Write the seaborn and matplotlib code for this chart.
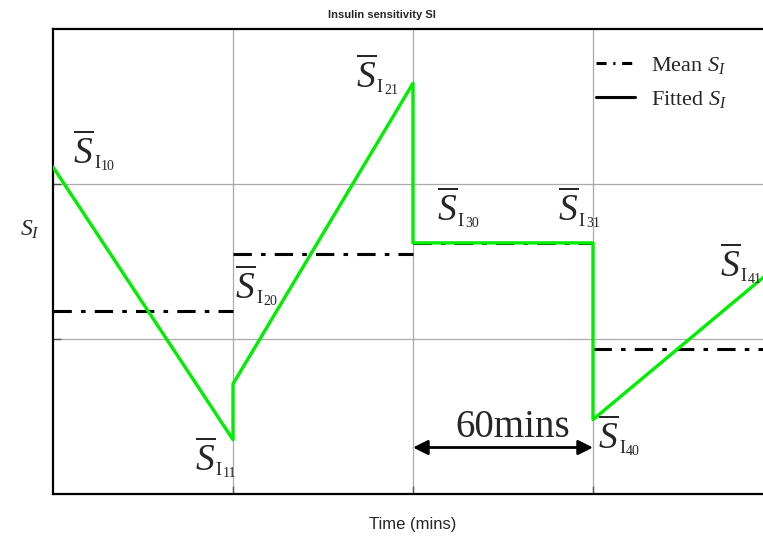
import matplotlib
matplotlib.use("Agg")
import matplotlib.pyplot as plt
import seaborn as sns
import pandas as pd
from matplotlib.lines import Line2D

# fitted S_I (piecewise linear, jumps at each hour)
fit_t = [0, 60, 60, 120, 120, 180, 180, 240]
fit_v = [2.11, 0.35, 0.71, 2.65, 1.62, 1.62, 0.48, 1.45]

# mean S_I over each hour
mean_start = [0, 60, 120, 180]
mean_end = [60, 120, 180, 240]
mean_v = [1.18, 1.55, 1.62, 0.935]

# S-bar annotations: subscript, left edge (mins), baseline (S_I units)
lab_sub = ['10', '11', '20', '21', '30', '31', '40', '41']
lab_t = [6.7, 47.3, 60.7, 101.0, 128.0, 168.3, 181.7, 222.3]
lab_v = [2.13, 0.15, 1.26, 2.62, 1.76, 1.76, 0.29, 1.40]

sns.set_theme(style='ticks')
plt.rcParams['font.family'] = ['Liberation Sans', 'DejaVu Sans']
plt.rcParams['mathtext.fontset'] = 'custom'
plt.rcParams['mathtext.it'] = 'Liberation Serif:italic'
plt.rcParams['mathtext.rm'] = 'Liberation Serif'
serif = 'Liberation Serif'

fig = plt.figure(figsize=(7.63, 5.39), dpi=100)
ax = fig.add_axes([53 / 763, 45 / 539, 720 / 763, 465 / 539])

dashdot = (0, (6, 3, 1.5, 3))
for s, e, v in zip(mean_start, mean_end, mean_v):
    seg = pd.DataFrame({'t': [s, e], 'v': [v, v]})
    sns.lineplot(data=seg, x='t', y='v', ax=ax, color='black', lw=2.2,
                 linestyle=dashdot, zorder=2)

df = pd.DataFrame({'t': fit_t, 'v': fit_v})
sns.lineplot(data=df, x='t', y='v', ax=ax, color='#00ee00', lw=2.4,
             sort=False, estimator=None, zorder=3)

ax.set_xlim(0, 240)
ax.set_ylim(0, 3)
ax.set_xticks([60, 120, 180])
ax.set_yticks([1, 2])
ax.set_xticklabels([])
ax.set_yticklabels([])
ax.tick_params(direction='in', length=6, width=1, colors='#555555')
ax.grid(True, color='#aaaaaa', lw=0.9)
for sp in ax.spines.values():
    sp.set_color('black')
    sp.set_linewidth(1.6)

for sub, t, v in zip(lab_sub, lab_t, lab_v):
    ax.text(t, v, r'$\overline{S}$', fontsize=27, ha='left', va='baseline',
            zorder=4)
    ax.annotate('I', (t, v), xytext=(15.0, -3.2), textcoords='offset points',
                fontsize=13, family=serif, ha='left', va='baseline')
    ax.annotate(sub, (t, v), xytext=(20.2, -4.4), textcoords='offset points',
                fontsize=10, family=serif, ha='left', va='baseline')

# 60 mins arrow
ax.annotate('', xy=(120, 0.30), xytext=(180, 0.30),
            arrowprops=dict(arrowstyle='<|-|>', color='black', lw=2,
                            mutation_scale=22, shrinkA=0, shrinkB=0))
ax.text(153.3, 0.37, '60mins', fontsize=28, ha='center', va='baseline',
        family=serif)

# legend
handles = [Line2D([], [], color='black', lw=2.2, linestyle=(0, (3.3, 2.2, 0.7, 2.2))),
           Line2D([], [], color='black', lw=2.2)]
ax.legend(handles, [r'Mean $S_I$', r'Fitted $S_I$'], loc='upper left',
          bbox_to_anchor=(0.727, 0.988), frameon=False, handlelength=1.75,
          handletextpad=0.7, prop={'family': serif, 'size': 16},
          labelspacing=0.6)

ax.set_xlabel('Time (mins)', fontsize=12, labelpad=13)
ax.set_ylabel(r'$S_I$', fontsize=17, rotation=0, labelpad=14)
ax.yaxis.set_label_coords(-0.032, 0.545)
fig.text(0.5, 0.972, 'Insulin sensitivity SI', ha='center', va='center',
         fontsize=8, fontweight='bold')

fig.savefig('out.png', dpi=100)
